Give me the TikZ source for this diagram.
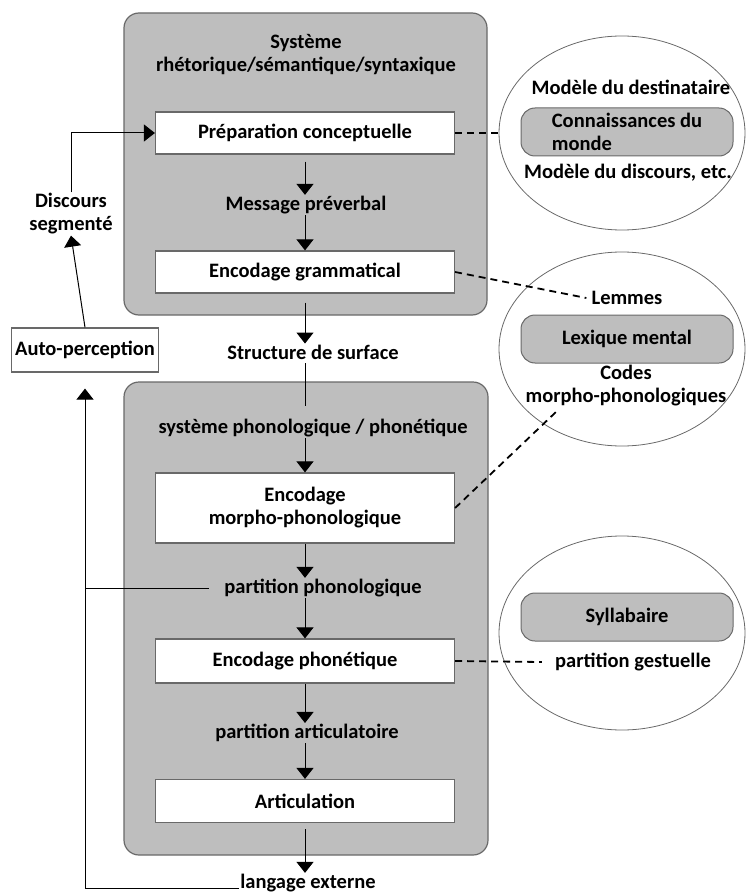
\documentclass[tikz,border=0pt]{standalone}
\usepackage{fontspec}
\setmainfont{Carlito}
\usetikzlibrary{arrows.meta,positioning,shapes.geometric}

\definecolor{fondgris}{RGB}{190,190,190}
\definecolor{traitgris}{RGB}{105,105,105}

\tikzset{
  systeme/.style={draw=traitgris, line width=1.2pt, fill=fondgris, rounded corners=15pt},
  etape/.style={draw=traitgris, line width=1.2pt, fill=white, minimum width=299pt, align=center},
  texte/.style={align=center, inner sep=1pt},
  savoir/.style={draw=traitgris, line width=1pt, fill=fondgris, rounded corners=14pt,
                 minimum width=212pt, minimum height=48pt, align=center},
  bulle/.style={draw=traitgris, line width=0.8pt, ellipse, minimum width=246pt, minimum height=194pt},
  fleche/.style={-{Triangle[length=11pt,width=17pt]}, line width=1pt},
  lien/.style={dashed, dash pattern=on 7pt off 5pt, line width=1.8pt},
}

\begin{document}
\begin{tikzpicture}[x=1pt,y=-1pt, font=\fontsize{20.5}{23}\selectfont\bfseries]
  \useasboundingbox (0,0) rectangle (745,896);

  % les deux grands systemes
  \draw[systeme] (124,13) rectangle (487,315);
  \draw[systeme] (124,382) rectangle (488,855);

  % systeme du haut
  \node[texte] (titreA) at (306,55) {Système\\rhétorique/sémantique/syntaxique};
  \node[etape, minimum height=42pt] (prep) at (305,133) {Préparation conceptuelle};
  \node[texte] (msg) at (306,205) {Message préverbal};
  \node[etape, minimum height=42pt] (gram) at (305,272) {Encodage grammatical};

  \node[texte] (surf) at (313,352) {Structure de surface};

  % systeme du bas
  \node[texte] (phon) at (313,428) {système phonologique / phonétique};
  \node[etape, minimum height=70pt] (morph) at (305,508) {Encodage\\morpho-phonologique};
  \node[texte] (partphon) at (323,588) {partition phonologique};
  \node[etape, minimum height=44pt] (phonet) at (305,661) {Encodage phonétique};
  \node[texte] (partart) at (307,733) {partition articulatoire};
  \node[etape, minimum height=43pt] (artic) at (305,801) {Articulation};
  \node[texte] (langext) at (308,883) {langage externe};

  % boucle de retour
  \node[etape, minimum width=141pt, minimum height=44pt] (autop) at (85,350) {Auto-perception};
  \node[texte, fill=white] (discours) at (71,214) {Discours\\segmenté};

  % bulles de droite
  \node[bulle] (bulle1) at (622,133) {};
  \node[texte] (dest) at (631,87) {Modèle du destinataire};
  \node[savoir, align=left] (monde) at (627,132) {Connaissances du\\monde};
  \node[texte] (disc) at (628,173) {Modèle du discours, etc.};

  \node[bulle] (bulle2) at (622,349) {};
  \node[texte] (lemmes) at (627,298) {Lemmes};
  \node[savoir] (lexique) at (627,339) {Lexique mental};
  \node[texte] (codes) at (626,386) {Codes\\morpho-phonologiques};
  \coordinate (codesbas) at (557,411);

  \node[bulle] (bulle3) at (622,633) {};
  \node[savoir] (syll) at (627,617) {Syllabaire};
  \node[texte] (gest) at (633,662) {partition gestuelle};

  % fleches du flux principal
  \draw[fleche] ([yshift=-7pt]prep.south) -- (prep.south |- msg.north);
  \draw[fleche] (prep.south |- msg.south) -- (gram.north);
  \draw[fleche] ([yshift=-9pt]gram.south) -- (gram.south |- surf.north);
  \draw[line width=1pt] ([yshift=-3pt]gram.south |- surf.south) -- ([yshift=12pt]gram.south |- phon.north);
  \draw[fleche] (morph.north |- phon.south) -- (morph.north);
  \draw[fleche] (morph.south) -- (morph.south |- partphon.north);
  \draw[fleche] (phonet.north |- partphon.south) -- (phonet.north);
  \draw[fleche] (phonet.south) -- (phonet.south |- partart.north);
  \draw[fleche] (artic.north |- partart.south) -- (artic.north);
  \draw[fleche] ([yshift=-6pt]artic.south) -- (artic.south |- langext.north);

  % retour
  \draw[fleche] ([yshift=-5pt]langext.west) -| ([yshift=-16pt]autop.south);
  \draw[line width=1pt] ([xshift=-14pt]partphon.west) -- (partphon.west -| autop.south);
  \draw[fleche] (autop.north) -- (discours.south);
  \draw[fleche] (discours.north) |- (prep.west);

  % liens pointilles
  \draw[lien] (prep.east) -- (bulle1.west);
  \draw[lien] (gram.east) -- ([xshift=-4pt]lemmes.west);
  \draw[lien] (morph.east) -- (codesbas);
  \draw[lien] (phonet.east) -- ([xshift=-12pt]gest.west);
\end{tikzpicture}
\end{document}
